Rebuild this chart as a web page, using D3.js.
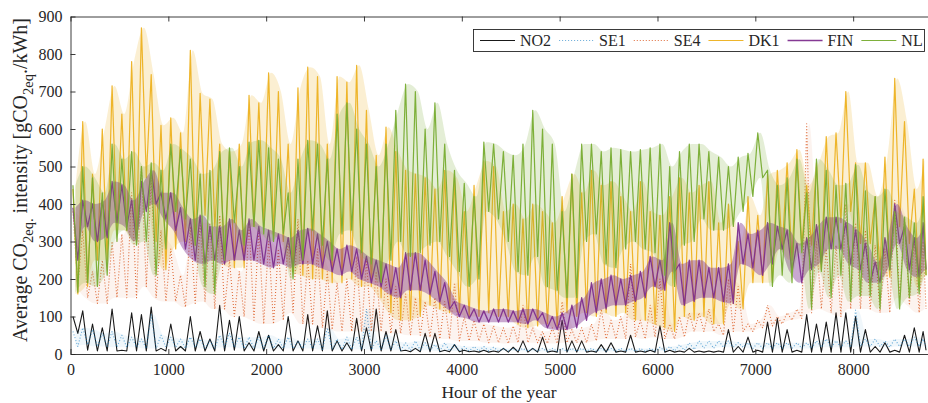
<!DOCTYPE html>
<html><head><meta charset="utf-8">
<script src="https://cdn.jsdelivr.net/npm/d3@7"></script>
<style>
body{margin:0;background:#fff}
svg{display:block}
text{font-family:"Liberation Serif","Times New Roman",serif;fill:#262626}
</style>
</head><body>
<svg id="chart" width="928" height="403"></svg>
<script>
// ---- data: per 100-hour bin, the max (hi) and min (lo) of each hourly series ----
const hoursInYear = 8760;
const binSize = 100;
const seriesNames = ["NO2", "SE1", "SE4", "DK1", "FIN", "NL"];
const xTickValues = [0, 1000, 2000, 3000, 4000, 5000, 6000, 7000, 8000];
const yTickValues = [0, 100, 200, 300, 400, 500, 600, 700, 800, 900];

const NO2_hi = [100,115,80,70,120,10,110,105,125,15,80,20,100,60,40,130,90,100,30,60,50,25,
  100,35,105,75,115,35,30,95,70,120,60,65,10,15,55,55,10,25,10,8,10,8,
  15,18,35,15,45,8,90,35,35,8,25,30,8,50,8,10,75,10,8,15,8,8,
  8,65,20,45,10,85,95,65,10,105,80,85,110,110,100,65,20,30,10,50,70,60];
const NO2_lo = [55,10,8,8,8,8,8,8,8,8,8,8,8,8,8,8,10,8,8,8,8,8,
  8,8,8,8,8,8,8,8,8,8,8,8,6,6,6,6,6,6,6,5,5,5,
  5,5,5,5,5,5,5,5,5,5,5,5,5,5,5,5,5,5,5,5,5,5,
  5,5,5,5,5,5,5,5,5,5,5,5,5,5,5,5,5,5,5,5,5,10];

const SE1_hi = [60,70,65,55,60,50,45,40,105,50,45,40,45,40,35,50,55,45,45,45,50,40,
  45,35,40,40,70,40,45,45,120,35,50,35,30,35,30,25,30,25,20,20,20,18,
  15,15,15,15,15,15,15,15,15,15,15,15,15,15,15,15,18,20,25,30,35,35,
  35,35,30,30,30,30,30,30,30,30,35,40,35,35,117,40,40,35,40,40,45,40];
const SE1_lo = [20,25,20,20,18,18,18,15,15,18,18,15,18,15,15,18,18,15,15,15,15,15,
  15,15,15,12,12,12,12,12,12,12,12,10,10,10,10,8,8,8,8,8,8,8,
  8,8,7,7,7,7,7,7,7,7,7,7,7,7,7,8,8,8,10,12,15,15,
  18,18,18,15,15,15,15,15,15,15,18,18,18,18,20,20,20,18,20,20,20,20];

const SE4_hi = [380,330,220,250,300,320,430,500,470,330,280,210,340,350,350,370,250,220,350,330,300,280,
  310,360,250,280,220,190,200,260,250,220,200,180,160,150,140,150,140,190,100,90,80,75,
  70,75,130,70,60,70,140,65,70,80,120,90,100,240,90,130,200,80,100,110,110,120,
  80,200,180,80,90,130,100,110,120,614,300,280,290,400,350,330,290,280,410,360,300,300];
const SE4_lo = [180,150,135,135,150,150,150,180,150,140,140,125,135,140,120,120,100,100,90,80,80,90,
  110,80,80,70,65,60,60,60,60,60,55,55,50,50,45,40,40,35,35,35,30,30,
  28,30,30,30,28,28,30,30,30,35,40,40,40,45,40,45,40,40,45,60,60,60,
  50,60,60,60,70,75,80,90,95,110,120,110,100,120,120,120,110,110,150,130,110,120];

const DK1_hi = [440,620,480,600,715,640,780,870,745,610,630,590,810,695,680,560,540,560,690,670,750,700,
  560,710,765,740,560,740,725,770,650,530,605,540,490,480,470,440,490,470,380,450,515,500,
  380,400,360,400,380,350,420,480,430,490,450,460,420,380,460,380,370,420,470,430,450,460,
  350,400,300,420,370,480,490,510,545,450,510,580,590,700,510,510,420,525,735,620,440,520];
const DK1_lo = [160,180,250,250,330,330,300,470,300,225,280,300,290,370,340,240,230,230,340,340,320,300,
  220,210,200,200,190,190,200,180,180,150,110,90,90,100,130,120,110,110,100,100,110,100,
  100,80,70,75,80,70,110,100,110,100,110,100,110,90,90,80,70,60,100,90,100,80,
  80,135,120,190,190,190,280,250,290,290,225,295,350,380,295,295,225,205,340,295,180,210];

const FIN_hi = [390,410,400,410,460,450,410,460,490,430,430,390,360,370,340,340,360,330,360,340,330,320,
  310,330,335,320,300,280,290,280,260,250,240,230,270,270,250,220,190,140,130,120,115,120,
  120,115,120,120,110,100,110,130,150,190,200,210,200,210,220,260,250,350,240,250,250,230,
  230,240,350,320,330,350,340,330,295,310,345,365,365,350,330,295,245,310,400,340,310,350];
const FIN_lo = [250,340,300,310,350,340,300,380,400,360,330,280,250,240,250,240,250,250,250,240,230,240,
  230,240,240,230,220,210,220,200,190,180,160,150,170,170,160,140,120,100,95,85,85,85,
  85,85,80,90,70,65,65,70,90,110,120,130,130,140,150,180,170,220,130,140,150,150,
  140,135,240,230,210,240,280,220,190,225,240,280,280,240,225,190,190,225,295,225,205,225];

const NL_hi = [450,500,470,430,560,520,540,500,510,490,560,545,520,480,490,540,550,500,565,570,550,520,
  430,520,570,560,520,640,670,600,560,500,560,650,720,700,600,670,560,490,455,420,565,560,
  540,530,560,650,600,560,380,480,560,560,540,550,545,540,545,550,560,500,540,560,560,540,
  525,500,525,535,590,490,450,470,520,430,520,490,450,455,505,435,420,440,380,365,350,420];
const NL_lo = [165,190,180,210,300,330,290,300,210,280,380,360,290,180,160,250,350,290,340,320,300,320,
  200,250,330,290,250,320,330,270,240,190,250,300,260,270,290,300,260,220,180,200,380,360,
  300,220,210,260,180,170,150,150,300,320,240,230,280,300,280,270,210,180,290,300,360,330,
  330,340,380,420,470,180,210,190,270,120,220,150,210,140,155,155,120,225,120,150,160,210];

const seriesHi = {NO2: NO2_hi, SE1: SE1_hi, SE4: SE4_hi, DK1: DK1_hi, FIN: FIN_hi, NL: NL_hi};
const seriesLo = {NO2: NO2_lo, SE1: SE1_lo, SE4: SE4_lo, DK1: DK1_lo, FIN: FIN_lo, NL: NL_lo};

// ---- styles ----
const styles = {
  NO2: {color: "#000000", dash: null, width: 1.1, opacity: 0.9, band: 0},
  SE1: {color: "#0072BD", dash: "1,2", width: 1.1, opacity: 0.6, band: 0.06},
  SE4: {color: "#D95319", dash: "1,2", width: 1.1, opacity: 0.85, band: 0.07},
  DK1: {color: "#EDB120", dash: null, width: 1.2, opacity: 0.95, band: 0.2},
  FIN: {color: "#7E2F8E", dash: null, width: 1.3, opacity: 0.95, band: 0.42},
  NL:  {color: "#77AC30", dash: null, width: 1.2, opacity: 0.95, band: 0.2}
};

const svg = d3.select("#chart");
const W = 928, H = 403;
const m = {left: 70.5, right: 0.5, top: 16.5, bottom: 49};
const x = d3.scaleLinear().domain([0, hoursInYear]).range([m.left, W - m.right]);
const y = d3.scaleLinear().domain([0, 900]).range([H - m.bottom, m.top]);

// zigzag through each bin's max then min
function pointsFor(name) {
  const hi = seriesHi[name], lo = seriesLo[name];
  const pts = [];
  hi.forEach((v, k) => {
    const a = k * binSize, b = Math.min((k + 1) * binSize, hoursInYear);
    pts.push([a + (b - a) * 0.25, v]);
    pts.push([a + (b - a) * 0.75, lo[k]]);
  });
  return pts;
}
// min–max envelope of each bin
function bandFor(name) {
  const hi = seriesHi[name], lo = seriesLo[name];
  return hi.map((v, k) => {
    const a = k * binSize, b = Math.min((k + 1) * binSize, hoursInYear);
    return {h: (a + b) / 2, hi: v, lo: lo[k]};
  });
}

const line = d3.line().x(d => x(d[0])).y(d => y(d[1]));
const area = d3.area().x(d => x(d.h)).y0(d => y(d.lo)).y1(d => y(d.hi)).curve(d3.curveMonotoneX);
const gLines = svg.append("g");
seriesNames.forEach(name => {
  const s = styles[name];
  if (s.band > 0) {
    gLines.append("path")
      .attr("d", area(bandFor(name)))
      .attr("fill", s.color)
      .attr("fill-opacity", s.band)
      .attr("stroke", "none");
  }
  gLines.append("path")
    .attr("d", line(pointsFor(name)))
    .attr("fill", "none")
    .attr("stroke", s.color)
    .attr("stroke-width", s.width)
    .attr("stroke-opacity", s.opacity)
    .attr("stroke-dasharray", s.dash)
    .attr("stroke-linejoin", "round");
});

// ---- axes (MATLAB style, inward ticks, box on top) ----
const axisColor = "#262626";
const gx = svg.append("g").attr("transform", `translate(0,${y(0)})`)
  .call(d3.axisBottom(x).tickValues(xTickValues).tickFormat(d3.format("d"))
    .tickSize(-5).tickSizeOuter(0).tickPadding(10));
const gxt = svg.append("g").attr("transform", `translate(0,${y(900)})`)
  .call(d3.axisTop(x).tickValues(xTickValues).tickSize(-5).tickSizeOuter(0).tickFormat(""));
const gy = svg.append("g").attr("transform", `translate(${x(0)},0)`)
  .call(d3.axisLeft(y).tickValues(yTickValues).tickFormat(d3.format("d"))
    .tickSize(-5).tickSizeOuter(0).tickPadding(8));
[gx, gxt, gy].forEach(g => {
  g.selectAll("path,line").attr("stroke", axisColor).attr("stroke-width", 0.9);
  g.selectAll("text").attr("font-size", 16).attr("fill", axisColor)
    .attr("font-family", '"Liberation Serif","Times New Roman",serif');
});

// x label
svg.append("text").attr("x", (x(0) + x(hoursInYear)) / 2).attr("y", 398)
  .attr("text-anchor", "middle").attr("font-size", 17.5).text("Hour of the year");

// y label with subscripts
const yl = svg.append("text").attr("transform", "translate(27,180) rotate(-90)")
  .attr("text-anchor", "middle").attr("font-size", 20);
yl.append("tspan").text("Average CO");
yl.append("tspan").attr("font-size", 14.5).attr("dy", 6).text("2eq.");
yl.append("tspan").attr("dy", -6).text(" intensity [gCO");
yl.append("tspan").attr("font-size", 14.5).attr("dy", 6).text("2eq");
yl.append("tspan").attr("dy", -6).text("./kWh]");

// ---- legend ----
const leg = svg.append("g");
leg.append("rect").attr("x", 473.5).attr("y", 29.5).attr("width", 451).attr("height", 22)
  .attr("fill", "#fff").attr("stroke", axisColor).attr("stroke-width", 0.9);
let lx = 480;
seriesNames.forEach(name => {
  const s = styles[name];
  leg.append("line").attr("x1", lx).attr("x2", lx + 35).attr("y1", 40.5).attr("y2", 40.5)
    .attr("stroke", s.color).attr("stroke-width", s.width).attr("stroke-opacity", s.opacity)
    .attr("stroke-dasharray", s.dash);
  const t = leg.append("text").attr("x", lx + 40).attr("y", 46).attr("font-size", 16).text(name);
  lx = lx + 40 + t.node().getComputedTextLength() + 8;
});
</script>
</body></html>
